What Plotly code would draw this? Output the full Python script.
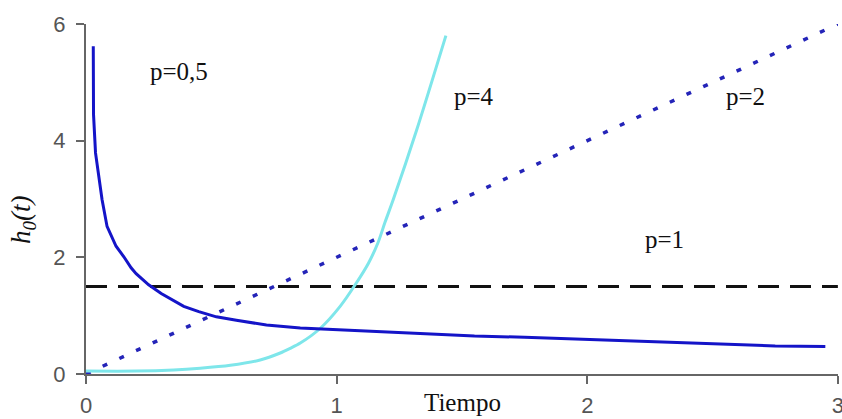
import plotly.graph_objects as go

# Weibull baseline hazards h0(t) for several shape values p
t_p05 = [0.029, 0.030, 0.038, 0.051, 0.064, 0.084, 0.10, 0.12, 0.151, 0.18, 0.20, 0.25,
         0.30, 0.35, 0.39, 0.45, 0.52, 0.60, 0.72, 0.855, 0.955, 1.15, 1.35, 1.55,
         1.75, 1.95, 2.15, 2.35, 2.55, 2.75, 2.95]
h_p05 = [5.62, 4.45, 3.79, 3.39, 2.99, 2.53, 2.38, 2.19, 2.01, 1.82, 1.72, 1.53,
         1.38, 1.26, 1.16, 1.07, 0.98, 0.92, 0.84, 0.79, 0.77, 0.73, 0.69, 0.65,
         0.63, 0.60, 0.57, 0.53, 0.50, 0.48, 0.47]

t_p4 = [0.0, 0.2, 0.35, 0.456, 0.576, 0.695, 0.775, 0.815, 0.855, 0.934, 1.014,
        1.074, 1.127, 1.165, 1.193, 1.226, 1.32, 1.436]
h_p4 = [0.05, 0.05, 0.07, 0.10, 0.15, 0.24, 0.36, 0.44, 0.53, 0.78, 1.16,
        1.53, 1.90, 2.25, 2.60, 2.99, 4.19, 5.80]

t_p2 = [0.0, 3.0]
h_p2 = [0.0, 6.0]

t_p1 = [0.0, 3.0]
h_p1 = [1.5, 1.5]

labels = ["p=0,5", "p=4", "p=2", "p=1"]
label_t = [0.372, 1.548, 2.631, 2.309]
label_h = [5.18, 4.76, 4.76, 2.30]

x_ticks = [0, 1, 2, 3]
y_ticks = [0, 2, 4, 6]

fig = go.Figure()
fig.add_trace(go.Scatter(x=t_p1, y=h_p1, mode="lines",
                         line=dict(color="#111111", width=3, dash="21px,11px")))
fig.add_trace(go.Scatter(x=t_p2, y=h_p2, mode="lines",
                         line=dict(color="#2424b8", width=3.5, dash="5px,13.4px")))
fig.add_trace(go.Scatter(x=t_p4, y=h_p4, mode="lines",
                         line=dict(color="#7ee6ea", width=3, shape="spline", smoothing=0.8)))
fig.add_trace(go.Scatter(x=t_p05, y=h_p05, mode="lines",
                         line=dict(color="#1414c8", width=3)))

for txt, tx, hy in zip(labels, label_t, label_h):
    fig.add_annotation(x=tx, y=hy, xref="x", yref="y", text=txt, showarrow=False,
                       font=dict(family="Liberation Serif", size=25, color="#111111"))

# axis titles placed in paper coordinates, close to the axes
fig.add_annotation(x=(462.5 - 86) / 752, y=-(402 - 374) / 350, xref="paper", yref="paper",
                   xanchor="center", yanchor="middle",
                   text="Tiempo", showarrow=False,
                   font=dict(family="Liberation Serif", size=25, color="#111111"))
fig.add_annotation(x=-(86 - 23) / 752, y=(374 - 220) / 350, xref="paper", yref="paper",
                   xanchor="center", yanchor="middle",
                   text="<i>h<sub>0</sub>(t)</i>", showarrow=False, textangle=-90,
                   font=dict(family="Liberation Serif", size=27, color="#111111"))

axis_common = dict(showgrid=False, zeroline=False, showline=True, linecolor="#666666",
                   linewidth=2, ticks="outside", tickcolor="#666666", tickwidth=2,
                   ticklen=8, ticklabeloverflow="allow", automargin=False,
                   tickfont=dict(family="Liberation Sans", size=22, color="#555555"))
fig.update_xaxes(range=[0, 3.0005], tickvals=x_ticks, ticktext=[str(v) for v in x_ticks],
                 ticklabelstandoff=3, **axis_common)
fig.update_yaxes(range=[0, 6], tickvals=y_ticks, ticktext=[str(v) for v in y_ticks],
                 ticklabelstandoff=6, **axis_common)

fig.update_layout(width=842, height=419, showlegend=False,
                  margin=dict(l=86, r=4, t=24, b=45),
                  paper_bgcolor="white", plot_bgcolor="white")

fig.write_html("out.html")
